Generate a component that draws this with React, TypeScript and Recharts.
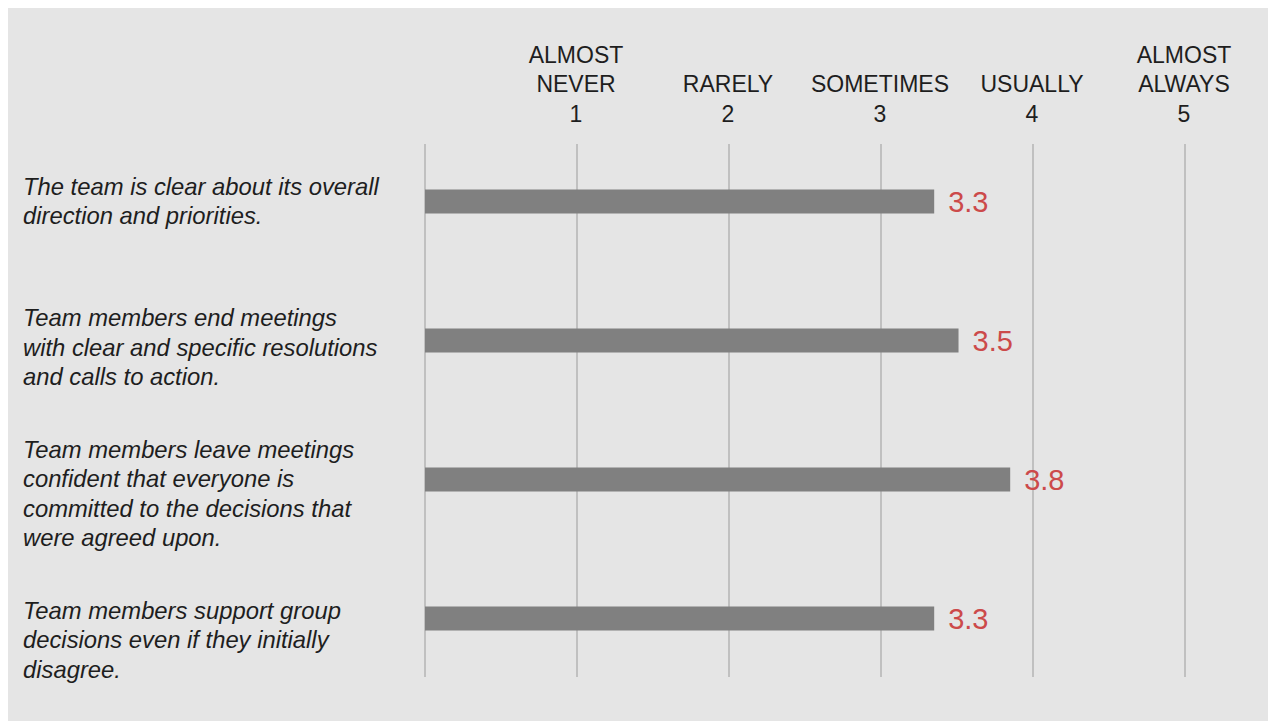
import { BarChart, Bar, XAxis, YAxis, CartesianGrid, LabelList } from "recharts";

const questions = [
  ["The team is clear about its overall", "direction and priorities."],
  ["Team members end meetings", "with clear and specific resolutions", "and calls to action."],
  [
    "Team members leave meetings",
    "confident that everyone is",
    "committed to the decisions that",
    "were agreed upon.",
  ],
  ["Team members support group", "decisions even if they initially", "disagree."],
];
const scores = [3.35, 3.51, 3.85, 3.35];
const scoreLabels = ["3.3", "3.5", "3.8", "3.3"];
const scaleTicks = [0, 1, 2, 3, 4, 5];
const scaleLabels = [[], ["ALMOST", "NEVER"], ["RARELY"], ["SOMETIMES"], ["USUALLY"], ["ALMOST", "ALWAYS"]];

const data = questions.map((q, i) => ({
  name: q.join(" "),
  score: scores[i],
  label: scoreLabels[i],
}));

const FONT = '"Liberation Sans", Arial, Helvetica, sans-serif';
const LINE = 29.5;

function ScaleTick(props: any) {
  const { x, y, payload } = props;
  const v = payload.value as number;
  if (v === 0) return <g />;
  const words = scaleLabels[v] ?? [];
  const lines = [...words, String(v)];
  const base = y - 18;
  return (
    <g>
      {lines.map((t, i) => (
        <text
          key={i}
          x={x - 1}
          y={base - (lines.length - 1 - i) * LINE}
          dy="0.36em"
          textAnchor="middle"
          fontFamily={FONT}
          fontSize={23}
          fill="#1e1e1e"
        >
          {t}
        </text>
      ))}
    </g>
  );
}

function QuestionTick(props: any) {
  const { y, index } = props;
  const lines = questions[index] ?? [];
  // label blocks sit a little lower than the bars as you go down
  const center = y + index * 7.3;
  const top = center - ((lines.length - 1) * LINE) / 2;
  return (
    <g>
      {lines.map((t, i) => (
        <text
          key={i}
          x={15}
          y={top + i * LINE}
          dy="0.36em"
          textAnchor="start"
          fontFamily={FONT}
          fontStyle="italic"
          fontSize={23.8}
          fill="#1e1e1e"
        >
          {t}
        </text>
      ))}
    </g>
  );
}

export default function App() {
  return (
    <div
      style={{
        position: "absolute",
        left: 8,
        top: 8,
        width: 1260,
        height: 713,
        background: "#e5e5e5",
      }}
    >
      <BarChart
        width={1260}
        height={713}
        data={data}
        layout="vertical"
        margin={{ top: 3.5, right: 83, bottom: 33.5, left: 0 }}
        barCategoryGap={0}
      >
        <CartesianGrid
          horizontal={false}
          vertical={(p: any) => (
            <line
              key={p.key ?? `v-${p.index}`}
              x1={p.x1}
              x2={p.x2}
              y1={p.y1 + 12.5}
              y2={p.y2 - 10.5}
              stroke="#b3b3b3"
              strokeWidth={1.5}
            />
          )}
        />
        <XAxis
          type="number"
          orientation="top"
          domain={[0, 5]}
          ticks={scaleTicks}
          height={120}
          axisLine={false}
          tickLine={false}
          tickSize={0}
          tickMargin={0}
          tick={<ScaleTick />}
          interval={0}
        />
        <YAxis
          type="category"
          dataKey="name"
          width={417}
          axisLine={false}
          tickLine={false}
          tickSize={0}
          tickMargin={0}
          tick={<QuestionTick />}
          interval={0}
        />
        <Bar dataKey="score" fill="#808080" barSize={24} isAnimationActive={false}>
          <LabelList
            dataKey="label"
            position="right"
            offset={14}
            fill="#cc4a4a"
            fontSize={29}
            fontFamily={FONT}
          />
        </Bar>
      </BarChart>
    </div>
  );
}
